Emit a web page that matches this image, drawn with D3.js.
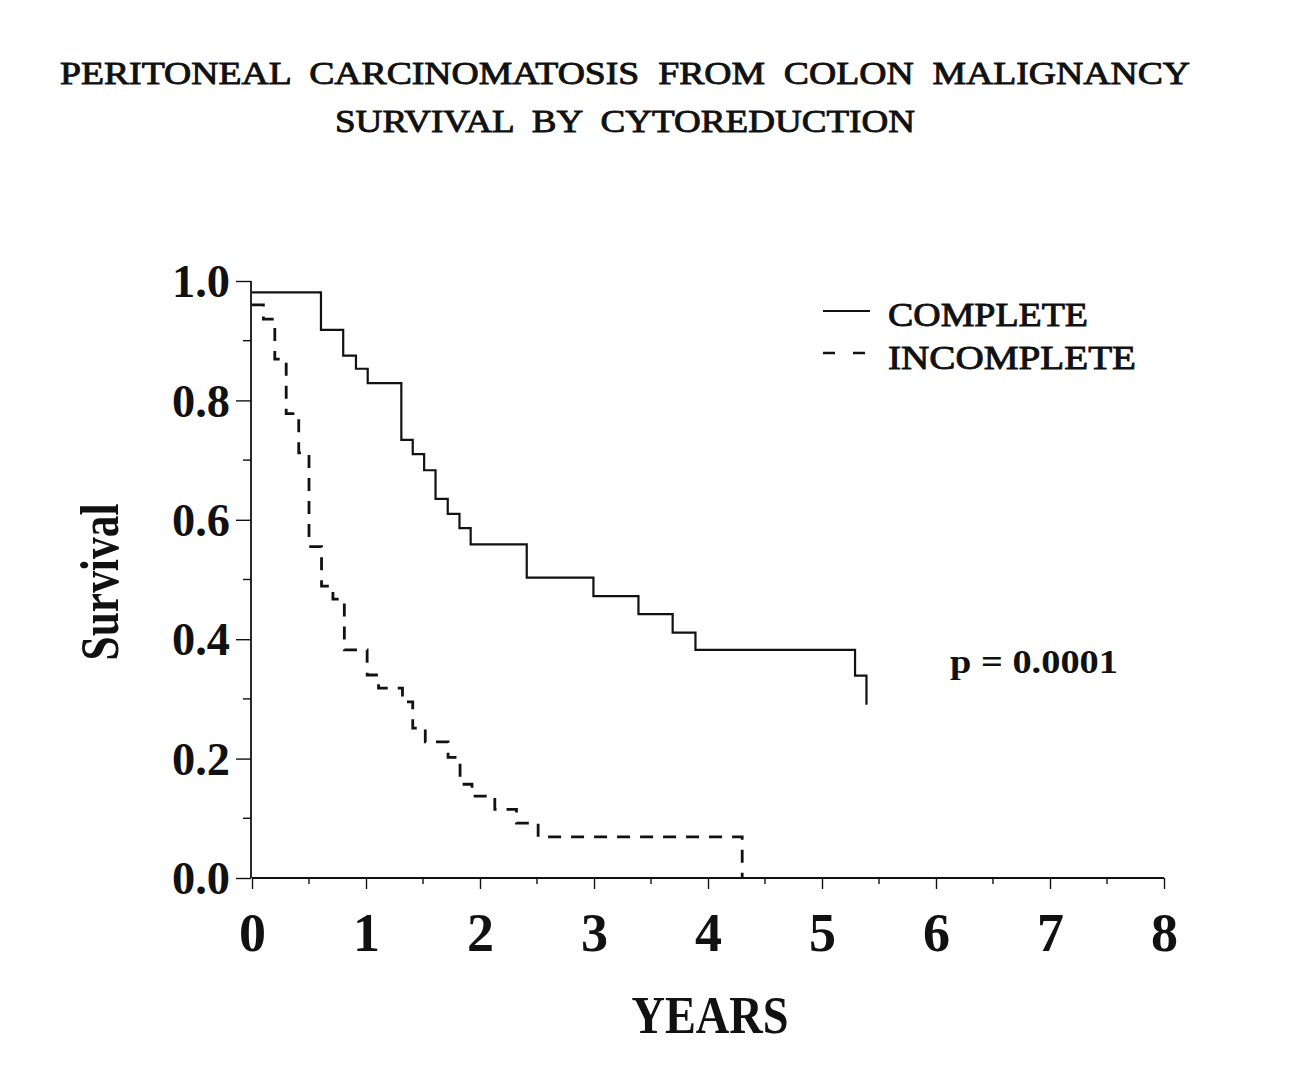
<!DOCTYPE html>
<html>
<head>
<meta charset="utf-8">
<script src="https://cdn.jsdelivr.net/npm/d3@7/dist/d3.min.js"></script>
<style>
  html, body { margin: 0; padding: 0; background: #fff; }
  svg { display: block; }
  text { font-family: "Liberation Serif", "Times New Roman", serif; fill: #111; }
</style>
</head>
<body>
<svg id="chart" width="1313" height="1090"></svg>
<script>
// ---- data ----
const titleLines = ["PERITONEAL  CARCINOMATOSIS  FROM  COLON  MALIGNANCY", "SURVIVAL  BY  CYTOREDUCTION"];
const seriesNames = ["COMPLETE", "INCOMPLETE"];
const completeTimes = [0, 0.605, 0.80, 0.912, 1.015, 1.31, 1.41, 1.51, 1.61, 1.717, 1.82, 1.918, 2.41, 2.995, 3.39, 3.69, 3.89, 5.29, 5.39];
const completeSurv  = [0.981, 0.918, 0.875, 0.853, 0.829, 0.734, 0.710, 0.683, 0.635, 0.610, 0.586, 0.559, 0.503, 0.472, 0.442, 0.411, 0.382, 0.339, 0.290];
const incompleteTimes = [0, 0.10, 0.20, 0.30, 0.41, 0.50, 0.61, 0.71, 0.81, 1.01, 1.11, 1.32, 1.41, 1.52, 1.72, 1.825, 1.93, 2.13, 2.32, 2.51, 4.30];
const incompleteSurv  = [0.960, 0.936, 0.869, 0.778, 0.712, 0.555, 0.489, 0.467, 0.382, 0.340, 0.318, 0.295, 0.251, 0.228, 0.202, 0.157, 0.137, 0.115, 0.092, 0.069, 0.0];
const xTicks = [0, 1, 2, 3, 4, 5, 6, 7, 8];
const xMinorTicks = [0.5, 1.5, 2.5, 3.5, 4.5, 5.5, 6.5, 7.5];
const yTicks = [0, 0.2, 0.4, 0.6, 0.8, 1.0];
const yMinorTicks = [0.1, 0.3, 0.5, 0.7, 0.9];
const xLabel = "YEARS";
const yLabel = "Survival";
const pText = "p = 0.0001";

// ---- layout ----
const svg = d3.select("#chart");
const x = d3.scaleLinear().domain([0, 8]).range([252, 1164]);
const y = d3.scaleLinear().domain([0, 1]).range([878, 281]);
const ink = "#111";

function heavy(sel, w) {
  return sel.style("font-weight", "normal").attr("stroke", ink).attr("stroke-width", w);
}

// Title
heavy(svg.append("text").attr("x", 60).attr("y", 84)
  .style("white-space", "pre").attr("font-size", 32)
  .attr("textLength", 1130).attr("lengthAdjust", "spacingAndGlyphs").text(titleLines[0]), 0.9);
heavy(svg.append("text").attr("x", 335).attr("y", 132)
  .style("white-space", "pre").attr("font-size", 32)
  .attr("textLength", 580).attr("lengthAdjust", "spacingAndGlyphs").text(titleLines[1]), 0.9);

// Axes
const gx = svg.append("g").attr("transform", `translate(0,${y(0)})`)
  .call(d3.axisBottom(x).tickValues(xTicks).tickSize(11).tickPadding(4).tickFormat(d3.format("d")));
gx.append("g").selectAll("line").data(xMinorTicks).join("line")
  .attr("x1", d => x(d)).attr("x2", d => x(d)).attr("y1", 0).attr("y2", 6)
  .attr("stroke", ink).attr("stroke-width", 1.4);
gx.select(".domain").attr("d", `M${x(0)},0H${x(8)}`).attr("stroke", ink).attr("stroke-width", 1.8);
gx.selectAll(".tick line").attr("stroke", ink).attr("stroke-width", 1.4);
gx.selectAll(".tick text").attr("font-size", 54).attr("fill", ink).attr("dy", "0").attr("y", 73)
  .attr("font-family", "Liberation Serif").style("font-weight", "bold");

const gy = svg.append("g").attr("transform", `translate(${x(0) - 1},0)`)
  .call(d3.axisLeft(y).tickValues(yTicks).tickSize(15).tickPadding(6).tickFormat(d3.format(".1f")));
gy.append("g").selectAll("line").data(yMinorTicks).join("line")
  .attr("x1", 0).attr("x2", -8).attr("y1", d => y(d)).attr("y2", d => y(d))
  .attr("stroke", ink).attr("stroke-width", 1.4);
gy.select(".domain").attr("d", `M0,${y(1)}V${y(0)}`).attr("stroke", ink).attr("stroke-width", 1.8);
gy.selectAll(".tick line").attr("stroke", ink).attr("stroke-width", 1.4);
gy.selectAll(".tick text").attr("font-size", 46).attr("fill", ink).attr("dy", "0.34em")
  .attr("font-family", "Liberation Serif").style("font-weight", "bold")
  .attr("textLength", 58).attr("lengthAdjust", "spacingAndGlyphs");

// Axis labels
svg.append("text").attr("x", 710).attr("y", 1033).attr("text-anchor", "middle").style("font-weight", "bold")
  .attr("font-size", 53).attr("textLength", 157).attr("lengthAdjust", "spacingAndGlyphs").text(xLabel);
svg.append("text").attr("transform", "translate(118,582) rotate(-90)").attr("text-anchor", "middle").style("font-weight", "bold")
  .attr("font-size", 54).attr("textLength", 157).attr("lengthAdjust", "spacingAndGlyphs").text(yLabel);

// Curves
const line = d3.line().x(d => x(d[0])).y(d => y(d[1])).curve(d3.curveStepAfter);
const completeData = completeTimes.map((t, i) => [t, completeSurv[i]]);
const incompleteData = incompleteTimes.map((t, i) => [t, incompleteSurv[i]]);
svg.append("path").attr("d", line(completeData)).attr("fill", "none")
  .attr("stroke", ink).attr("stroke-width", 2.2);
svg.append("path").attr("d", line(incompleteData)).attr("fill", "none")
  .attr("stroke", ink).attr("stroke-width", 2.8).attr("stroke-dasharray", "13,10");

// Legend
const leg = svg.append("g");
leg.append("line").attr("x1", 823).attr("x2", 870).attr("y1", 311).attr("y2", 311)
  .attr("stroke", ink).attr("stroke-width", 2);
leg.append("line").attr("x1", 823).attr("x2", 870).attr("y1", 353).attr("y2", 353)
  .attr("stroke", ink).attr("stroke-width", 2.4).attr("stroke-dasharray", "12,18");
heavy(leg.append("text").attr("x", 888).attr("y", 326).attr("font-size", 33)
  .attr("textLength", 200).attr("lengthAdjust", "spacingAndGlyphs").text(seriesNames[0]), 0.9);
heavy(leg.append("text").attr("x", 888).attr("y", 369).attr("font-size", 33)
  .attr("textLength", 248).attr("lengthAdjust", "spacingAndGlyphs").text(seriesNames[1]), 0.9);

// p-value
svg.append("text").attr("x", 950).attr("y", 673).attr("font-size", 33).style("font-weight", "bold")
  .attr("textLength", 168).attr("lengthAdjust", "spacingAndGlyphs").text(pText);
</script>
</body>
</html>
